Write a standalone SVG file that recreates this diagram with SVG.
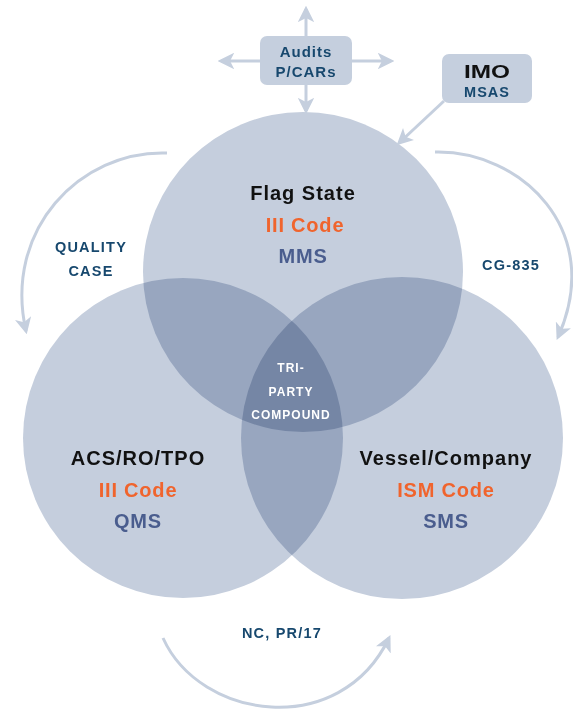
<svg xmlns="http://www.w3.org/2000/svg" width="573" height="710" viewBox="0 0 573 710">
<style>
.c{fill:#c5cedd;mix-blend-mode:multiply}
.t{font-family:"Liberation Sans",Arial,sans-serif;font-weight:bold;text-anchor:middle}
.h{font-size:20px;fill:#111;letter-spacing:1px}
.o{font-size:20px;fill:#f0642d;letter-spacing:0.8px}
.b{font-size:20px;fill:#4a5d8e;letter-spacing:0.8px}
.l{font-size:14.5px;fill:#17486e;letter-spacing:1.2px}
.w{font-size:12px;fill:#fff;letter-spacing:1px}
.a{fill:none;stroke:#c5cfde;stroke-width:3}
.bx{fill:#c5cfde}
</style>
<defs>
<marker id="ah" viewBox="0 0 10 10" refX="8" refY="5" markerWidth="5.5" markerHeight="5.5" orient="auto" markerUnits="strokeWidth">
<path d="M0,0 L10,5 L0,10 L2.5,5 Z" fill="#c5cfde"/>
</marker>
</defs>
<rect width="573" height="710" fill="#fff"/>
<g id="circles" style="isolation:isolate">
<g id="flag"><circle class="c" cx="303" cy="272" r="160"/></g>
<g id="acs"><circle class="c" cx="183" cy="438" r="160"/></g>
<g id="vessel"><circle class="c" cx="402" cy="438" r="161"/></g>
</g>
<g id="connectors">
<line class="a" x1="306" y1="36" x2="306" y2="9" marker-end="url(#ah)"/>
<line class="a" x1="306" y1="85" x2="306" y2="111" marker-end="url(#ah)"/>
<line class="a" x1="260" y1="61" x2="221" y2="61" marker-end="url(#ah)"/>
<line class="a" x1="352" y1="61" x2="391" y2="61" marker-end="url(#ah)"/>
<line class="a" x1="444" y1="101" x2="399" y2="143" marker-end="url(#ah)"/>
<path class="a" d="M167,153 C80,150 3,230 26,331" marker-end="url(#ah)"/>
<path class="a" d="M435,152 C520,150 606,230 558,337" marker-end="url(#ah)"/>
<path class="a" d="M163,638 C200,720 340,740 389,638" marker-end="url(#ah)"/>
</g>
<g id="audits">
<rect class="bx" x="260" y="36" width="92" height="49" rx="7"/>
<text class="t l" style="font-size:15px;letter-spacing:1px" x="306" y="57">Audits</text>
<text class="t l" style="font-size:15px;letter-spacing:1px" x="306" y="77">P/CARs</text>
</g>
<g id="imo">
<rect class="bx" x="442" y="54" width="90" height="49" rx="7"/>
<text class="t" style="font-size:19px;fill:#111" x="487" y="78" textLength="46" lengthAdjust="spacingAndGlyphs">IMO</text>
<text class="t l" style="font-size:14.5px;letter-spacing:1px" x="487" y="97">MSAS</text>
</g>
<g id="flag-text">
<text class="t h" x="303" y="200">Flag State</text>
<text class="t o" x="305" y="232">III Code</text>
<text class="t b" x="303" y="263">MMS</text>
</g>
<g id="acs-text">
<text class="t h" x="138" y="465">ACS/RO/TPO</text>
<text class="t o" x="138" y="497">III Code</text>
<text class="t b" x="138" y="528">QMS</text>
</g>
<g id="vessel-text">
<text class="t h" x="446" y="465">Vessel/Company</text>
<text class="t o" x="446" y="497">ISM Code</text>
<text class="t b" x="446" y="528">SMS</text>
</g>
<g id="tri">
<text class="t w" x="291" y="372">TRI-</text>
<text class="t w" x="291" y="396">PARTY</text>
<text class="t w" x="291" y="419">COMPOUND</text>
</g>
<g id="labels">
<text class="t l" x="91" y="252">QUALITY</text>
<text class="t l" x="91" y="276">CASE</text>
<text class="t l" x="511" y="270">CG-835</text>
<text class="t l" x="282" y="638">NC, PR/17</text>
</g>
</svg>
